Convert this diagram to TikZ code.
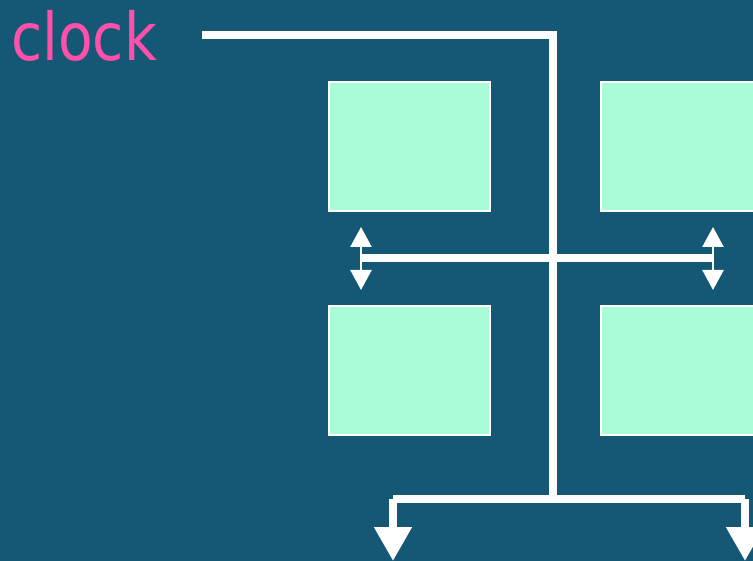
\documentclass[tikz,border=0pt]{standalone}
\usepackage{fontspec}
\setmainfont{DejaVu Sans}
\usepackage{tikz}
\usetikzlibrary{arrows.meta}
\usetikzlibrary{calc}
\usetikzlibrary{positioning}
\definecolor{bgblue}{RGB}{20,88,118}
\definecolor{cellgreen}{RGB}{168,252,216}
\definecolor{clockpink}{RGB}{255,80,170}
\tikzset{
	cell/.style = {draw=white, line width=1.3pt, fill=cellgreen, minimum width=161pt, minimum height=129pt, inner sep=0pt},
	wire/.style = {draw=white, line width=8pt},
	busarrow/.style = {draw=white, line width=2.5pt, {Triangle[width=21pt,length=20pt]}-{Triangle[width=21pt,length=20pt]}},
	outarrow/.style = {wire, -{Triangle[width=36pt,length=34pt]}}
}
\begin{document}
\begin{tikzpicture}
		[x = 1pt, y = -1pt]
		\fill[bgblue] (0,0) rectangle (753,561);
		\useasboundingbox (0,0) rectangle (753,561);
		\coordinate (a) at (409.5,146.5);
		\coordinate (b) at (681.5,146.5);
		\coordinate (c) at (409.5,370.5);
		\coordinate (d) at (681.5,370.5);

		\path
		(a) node[cell](p) {}
		(b) node[cell](q) {}
		(c) node[cell](r) {}
		(d) node[cell](s) {};

		\node[anchor=base west, inner sep=0pt, text=clockpink, font=\fontsize{66}{70}\selectfont] (clk) at (11,61) {\scalebox{0.86}[1]{clock}};

		\coordinate (cin) at (202,35);
		\coordinate (ctop) at (553,35);
		\coordinate (cbot) at (553,499);
		\coordinate (bl) at (361,258);
		\coordinate (br) at (713,258);
		\coordinate (ol) at (393,499);
		\coordinate (or) at (745,499);

		\draw[wire, line join=miter] (cin) -- (ctop) -- (cbot);
		\draw[wire] (bl) -- (br);
		\draw[busarrow] (361,227) -- (361,290);
		\draw[busarrow] (713,227) -- (713,290);
		\draw[wire, line join=miter] (ol) -- (or);
		\draw[outarrow] (ol) -- (393,561);
		\draw[outarrow] (or) -- (745,561);
	\end{tikzpicture}
\end{document}
